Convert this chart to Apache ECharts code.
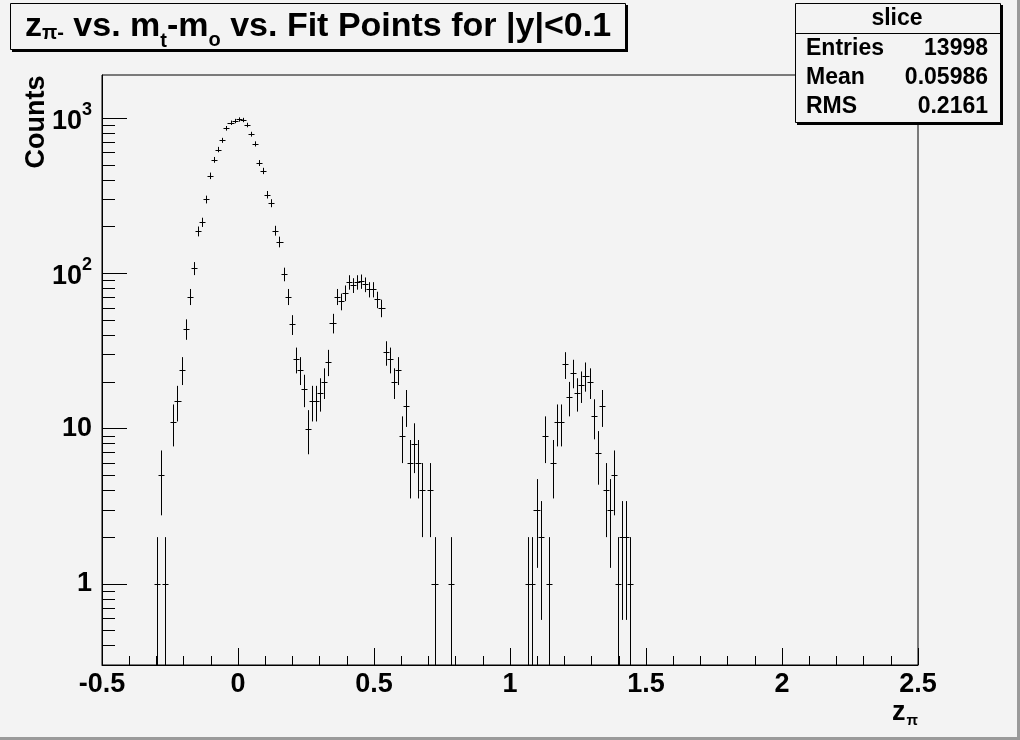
<!DOCTYPE html>
<html>
<head>
<meta charset="utf-8">
<script src="https://cdn.jsdelivr.net/npm/echarts@6/dist/echarts.min.js"></script>
<style>
html,body{margin:0;padding:0;background:#f3f3f3;}
#chart{width:1020px;height:740px;}
</style>
</head>
<body>
<div id="chart"></div>
<script>
// ---- data (bin centres of the z_pi histogram, bin width 0.015) ----
const zCenters = [
  -0.2975, -0.2825, -0.2675, -0.2375, -0.2225, -0.2075, -0.1925, -0.1775, -0.1625, -0.1475,
  -0.1325, -0.1175, -0.1025, -0.0875, -0.0725, -0.0575, -0.0425, -0.0275, -0.0125, 0.0025,
  0.0175, 0.0325, 0.0475, 0.0625, 0.0775, 0.0925, 0.1075, 0.1225, 0.1375, 0.1525,
  0.1675, 0.1825, 0.1975, 0.2125, 0.2275, 0.2425, 0.2575, 0.2725, 0.2875, 0.3025,
  0.3175, 0.3325, 0.3475, 0.3625, 0.3775, 0.3925, 0.4075, 0.4225, 0.4375, 0.4525,
  0.4675, 0.4825, 0.4975, 0.5125, 0.5275, 0.5425, 0.5575, 0.5725, 0.5875, 0.6025,
  0.6175, 0.6325, 0.6475, 0.6625, 0.6775, 0.7075, 0.7225, 0.7825,
  1.0675, 1.0825, 1.0975, 1.1125, 1.1275, 1.1425, 1.1575, 1.1725, 1.1875, 1.2025,
  1.2175, 1.2325, 1.2475, 1.2625, 1.2775, 1.2925, 1.3075, 1.3225, 1.3375, 1.3525,
  1.3675, 1.3825, 1.3975, 1.4125, 1.4275, 1.4425
];
const counts = [
  1, 5, 1, 11, 15, 24, 44, 71, 108, 187,
  214, 300, 426, 540, 629, 721, 862, 936, 960, 982,
  975, 905, 790, 684, 515, 458, 322, 284, 189, 160,
  99, 71, 47, 28, 24, 18, 10, 15, 15, 17,
  20, 27, 48, 71, 66, 75, 88, 84, 88, 89,
  85, 79, 79, 68, 60, 31, 28, 20, 24, 9,
  14, 6, 8, 6, 4, 4, 1, 1,
  1, 1, 3, 2, 9, 1, 6, 11, 11, 26,
  16, 23, 17, 19, 22, 20, 12, 7, 14, 4,
  3, 5, 1, 2, 2, 1
];
const binWidth = 0.015;
const xRange = [-0.5, 2.5];
const yRange = [0.3, 1900];
const yMajorTicks = [1, 10, 100, 1000];
const yMinorTicks = [0.3, 0.4, 0.5, 0.6, 0.7, 0.8, 0.9,
  2, 3, 4, 5, 6, 7, 8, 9,
  20, 30, 40, 50, 60, 70, 80, 90,
  200, 300, 400, 500, 600, 700, 800, 900];
const statsTitle = 'slice';
const statsNames = ['Entries', 'Mean', 'RMS'];
const statsValues = ['13998', '0.05986', '0.2161'];

const FONT = '"Liberation Sans", Arial, Helvetica, sans-serif';
const BG = '#f3f3f3';

const chart = echarts.init(document.getElementById('chart'), null, {renderer: 'canvas'});

function yLabel(v) {
  const e = Math.round(Math.log10(v));
  if (e >= 2) return '{n|10}{s|' + e + '}';
  return '{n|' + v + '}';
}

const option = {
  backgroundColor: BG,
  animation: false,
  grid: {left: 102, top: 75, right: 102, bottom: 75, show: true, borderColor: '#000', borderWidth: 1, backgroundColor: 'transparent'},
  xAxis: {
    type: 'value', min: xRange[0], max: xRange[1], interval: 0.5,
    axisLine: {show: true, onZero: false, lineStyle: {color: '#000', width: 1}},
    axisTick: {show: true, inside: true, length: 17, lineStyle: {color: '#000', width: 1}},
    minorTick: {show: true, splitNumber: 5, length: 9, lineStyle: {color: '#000', width: 1}},
    splitLine: {show: false},
    axisLabel: {color: '#000', fontFamily: FONT, fontWeight: 'bold', fontSize: 27, margin: 6}
  },
  yAxis: [{
    type: 'log', logBase: 10, min: yRange[0], max: yRange[1], position: 'left',
    axisLine: {show: true, onZero: false, lineStyle: {color: '#000', width: 1}},
    axisTick: {show: true, inside: true, length: 25, customValues: yMajorTicks, lineStyle: {color: '#000', width: 1}},
    splitLine: {show: false},
    axisLabel: {
      customValues: yMajorTicks, margin: 10, formatter: yLabel,
      rich: {
        n: {fontFamily: FONT, fontWeight: 'bold', fontSize: 27, color: '#000', lineHeight: 27, verticalAlign: 'bottom'},
        s: {fontFamily: FONT, fontWeight: 'bold', fontSize: 18, color: '#000', lineHeight: 34, verticalAlign: 'top'}
      }
    }
  }, {
    type: 'log', logBase: 10, min: yRange[0], max: yRange[1], position: 'left',
    axisLine: {show: false, onZero: false},
    axisTick: {show: true, inside: true, length: 13, customValues: yMinorTicks, lineStyle: {color: '#000', width: 1}},
    splitLine: {show: false},
    axisLabel: {show: false}
  }],
  series: [{
    type: 'custom',
    clip: true,
    silent: true,
    data: zCenters.map((z, k) => [z, counts[k]]),
    renderItem: function (params, api) {
      const x = api.value(0), n = api.value(1);
      const err = Math.sqrt(n);
      const lo = Math.max(n - err, yRange[0]);
      const hi = n + err;
      const pLo = api.coord([x, lo]);
      const pHi = api.coord([x, hi]);
      const pL = api.coord([x - binWidth / 2, n]);
      const pR = api.coord([x + binWidth / 2, n]);
      const cx = Math.round(pLo[0]) + 0.5;
      const cy = Math.round(pL[1]) + 0.5;
      const st = {stroke: '#000', lineWidth: 1};
      return {
        type: 'group',
        children: [
          {type: 'line', shape: {x1: cx, y1: pLo[1], x2: cx, y2: pHi[1]}, style: st},
          {type: 'line', shape: {x1: Math.round(pL[0]) - 0.5, y1: cy, x2: Math.round(pR[0]) + 1.5, y2: cy}, style: st}
        ]
      };
    }
  }],
  graphic: [
    // canvas bevel
    {type: 'rect', shape: {x: 1017, y: 0, width: 3, height: 740}, style: {fill: '#9a9a9a'}, silent: true},
    {type: 'rect', shape: {x: 0, y: 737, width: 1020, height: 3}, style: {fill: '#9a9a9a'}, silent: true},
    // title box
    {type: 'rect', shape: {x: 12, y: 5, width: 616, height: 47}, style: {fill: '#000'}, silent: true},
    {type: 'rect', shape: {x: 10.5, y: 3.5, width: 615, height: 46}, style: {fill: BG, stroke: '#000', lineWidth: 1}, silent: true},
    {
      type: 'text', x: 318, y: 10, silent: true,
      style: {
        text: '{a|z}{p|π-}{a| vs. m}{t|t}{a|-m}{o|o}{a| vs. Fit Points for |y|<0.1}',
        align: 'center', verticalAlign: 'top',
        rich: {
          a: {fontFamily: FONT, fontWeight: 'bold', fontSize: 34, fill: '#000', lineHeight: 34, verticalAlign: 'top'},
          p: {fontFamily: FONT, fontWeight: 'bold', fontSize: 20, fill: '#000', lineHeight: 20, verticalAlign: 'top', padding: [13, 0, 0, 0]},
          t: {fontFamily: FONT, fontWeight: 'bold', fontSize: 20, fill: '#000', lineHeight: 20, verticalAlign: 'top', padding: [21, 0, 0, 0]},
          o: {fontFamily: FONT, fontWeight: 'bold', fontSize: 20, fill: '#000', lineHeight: 20, verticalAlign: 'top', padding: [20, 0, 0, 0]}
        }
      }
    },
    // stats box
    {type: 'rect', shape: {x: 797, y: 5, width: 206, height: 120}, style: {fill: '#000'}, silent: true},
    {type: 'rect', shape: {x: 795.5, y: 3.5, width: 205, height: 119}, style: {fill: BG, stroke: '#000', lineWidth: 1}, silent: true},
    {type: 'line', shape: {x1: 795.5, y1: 33.5, x2: 1000.5, y2: 33.5}, style: {stroke: '#000', lineWidth: 1}, silent: true},
    {type: 'text', x: 897, y: 19, silent: true, style: {text: statsTitle, font: 'bold 23px ' + FONT, fill: '#000', align: 'center', verticalAlign: 'middle'}},
    {type: 'text', x: 806, y: 49, silent: true, style: {text: statsNames[0], font: 'bold 23px ' + FONT, fill: '#000', align: 'left', verticalAlign: 'middle'}},
    {type: 'text', x: 988, y: 49, silent: true, style: {text: statsValues[0], font: 'bold 23px ' + FONT, fill: '#000', align: 'right', verticalAlign: 'middle'}},
    {type: 'text', x: 806, y: 78, silent: true, style: {text: statsNames[1], font: 'bold 23px ' + FONT, fill: '#000', align: 'left', verticalAlign: 'middle'}},
    {type: 'text', x: 988, y: 78, silent: true, style: {text: statsValues[1], font: 'bold 23px ' + FONT, fill: '#000', align: 'right', verticalAlign: 'middle'}},
    {type: 'text', x: 806, y: 107, silent: true, style: {text: statsNames[2], font: 'bold 23px ' + FONT, fill: '#000', align: 'left', verticalAlign: 'middle'}},
    {type: 'text', x: 988, y: 107, silent: true, style: {text: statsValues[2], font: 'bold 23px ' + FONT, fill: '#000', align: 'right', verticalAlign: 'middle'}},
    // y axis title
    {type: 'text', x: 37, y: 122, rotation: Math.PI / 2, silent: true, style: {text: 'Counts', font: 'bold 27px ' + FONT, fill: '#000', align: 'center', verticalAlign: 'middle'}},
    // x axis title
    {
      type: 'text', x: 918, y: 713, silent: true,
      style: {
        text: '{a|z}{b|π}', align: 'right', verticalAlign: 'middle',
        rich: {
          a: {fontFamily: FONT, fontWeight: 'bold', fontSize: 27, fill: '#000', lineHeight: 27, verticalAlign: 'top'},
          b: {fontFamily: FONT, fontWeight: 'bold', fontSize: 15, fill: '#000', lineHeight: 15, verticalAlign: 'top', padding: [14, 0, 0, 1]}
        }
      }
    }
  ]
};
chart.setOption(option);
</script>
</body>
</html>
